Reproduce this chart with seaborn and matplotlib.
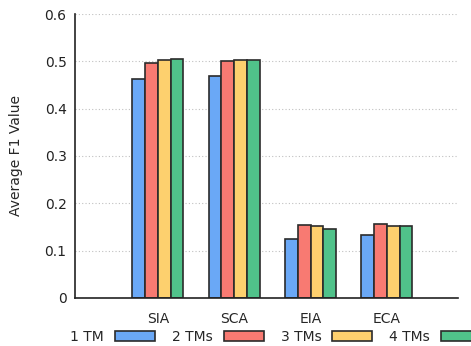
import matplotlib
matplotlib.use("Agg")
import matplotlib.pyplot as plt
import seaborn as sns
import pandas as pd

categories = ["SIA", "SCA", "EIA", "ECA"]
series = ["1 TM", "2 TMs", "3 TMs", "4 TMs"]
tm1 = [0.463, 0.470, 0.124, 0.132]
tm2 = [0.497, 0.500, 0.155, 0.156]
tm3 = [0.502, 0.503, 0.153, 0.151]
tm4 = [0.504, 0.502, 0.145, 0.153]
yticks = [0, 0.1, 0.2, 0.3, 0.4, 0.5, 0.6]
colors = ["#6aa8f6", "#f87a72", "#fdd06e", "#50c28a"]

rows = []
for s, vals in zip(series, [tm1, tm2, tm3, tm4]):
    for c, v in zip(categories, vals):
        rows.append({"Category": c, "Series": s, "Value": v})
df = pd.DataFrame(rows)

sns.set_style("white")
plt.rcParams["font.family"] = ["DejaVu Sans"]
FS = 10

fig = plt.figure(figsize=(4.71, 3.46), dpi=100)
ax = fig.add_axes([0.159, 0.139, 0.813, 0.8205])

sns.barplot(data=df, x="Category", y="Value", hue="Series", order=categories,
            hue_order=series, palette=colors, width=0.67, edgecolor="#2b2b2b",
            linewidth=1.2, saturation=1, ax=ax, legend=True)

ax.set_xlim(-1.087, 3.93)
ax.set_ylim(0, 0.6)
ax.set_yticks(yticks)
ax.set_yticklabels(["0" if t == 0 else f"{t:.1f}" for t in yticks], fontsize=FS)
ax.set_xlabel("")
ax.set_ylabel("Average F1 Value", fontsize=FS)
ax.yaxis.set_label_coords(-0.136, 0.5)
ax.tick_params(axis="y", direction="in", length=4, width=1, pad=6, colors="#222222")
ax.tick_params(axis="x", length=0, pad=10, labelsize=FS)
ax.yaxis.grid(True, linestyle=(0, (1, 2)), color="#c0c0c0", linewidth=0.8)
ax.set_axisbelow(True)
for sp in ["top", "right"]:
    ax.spines[sp].set_visible(False)
for sp in ["left", "bottom"]:
    ax.spines[sp].set_color("#222222")
    ax.spines[sp].set_linewidth(1.2)

handles, labels = ax.get_legend_handles_labels()
ax.get_legend().remove()
fig.legend(handles, labels, loc="center", bbox_to_anchor=(0.585, 0.026), ncol=4,
           frameon=False, markerfirst=False, fontsize=FS, handlelength=2.88,
           handleheight=0.72, columnspacing=1.22, handletextpad=0.79,
           borderpad=0, borderaxespad=0)

fig.savefig("out.png", dpi=100)
